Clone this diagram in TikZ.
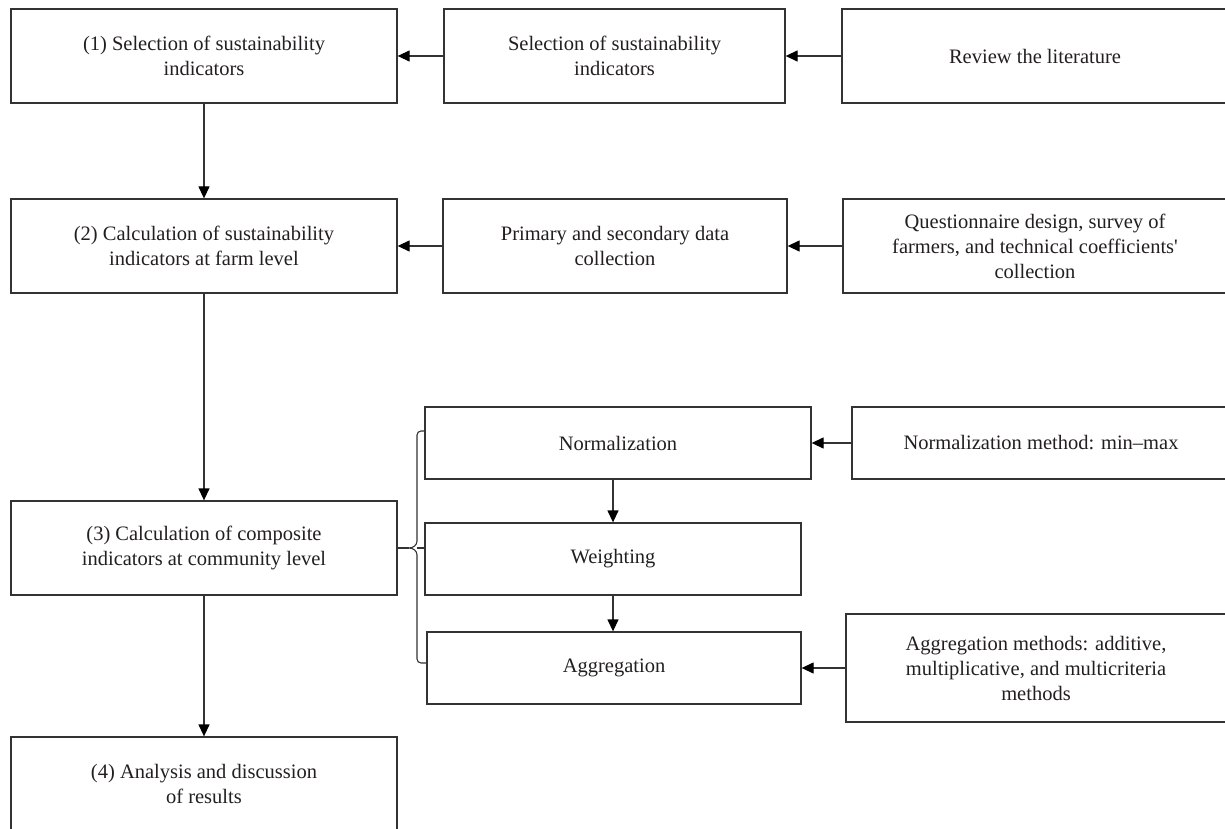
\documentclass[tikz,border=0pt]{standalone}
\usepackage{fontspec}
\setmainfont{Liberation Serif}
\newfontfamily\plainserif{Liberation Serif}
\usetikzlibrary{arrows.meta,calc}
\definecolor{ink}{HTML}{231F20}
\definecolor{edge}{HTML}{333333}
\begin{document}
\begin{tikzpicture}[x=1pt,y=-1pt,
  box/.style={draw=edge, line width=1.3pt, align=center, text=ink, inner sep=2pt,
    font=\fontsize{20.5}{25}\selectfont},
  arr/.style={draw=edge, line width=1.3pt, -{Triangle[length=12pt,width=11pt,fill=black,color=black]}},
  ln/.style={draw=edge, line width=1.3pt}]
\clip (0,0) rectangle (1225,829);
\fill[white] (0,0) rectangle (1225,829);

% column 1
\node[box, minimum width=386pt, minimum height=94pt] (b1) at (204,56) {(1) Selection of sustainability\\indicators};
\node[box, minimum width=386pt, minimum height=94pt] (b2) at (204,246) {(2) Calculation of sustainability\\indicators at farm level};
\node[box, minimum width=386pt, minimum height=94pt] (b3) at (204,548) {(3) Calculation of composite\\indicators at community level};
\node[box, minimum width=386pt, minimum height=94pt] (b4) at (204,784) {(4) Analysis and discussion\\of results};

% middle column
\node[box, minimum width=341pt, minimum height=94pt] (m1) at (614.5,56) {Selection of sustainability\\indicators};
\node[box, minimum width=344pt, minimum height=94pt] (m2) at (615,246) {Primary and secondary data\\collection};
\node[box, minimum width=386pt, minimum height=72pt] (norm) at (618,443) {Normalization};
\node[box, minimum width=376pt, minimum height=72pt] (weight) at (613,559) {Weighting};
\node[box, minimum width=374pt, minimum height=72pt] (agg) at (614,668) {Aggregation};

% right column
\node[box, minimum width=386pt, minimum height=94pt] (r1) at (1035,56) {Review the literature};
\node[box, minimum width=384pt, minimum height=94pt] (r2) at (1035,246) {Questionnaire design, survey of\\farmers, and technical coefficients{\plainserif '}\\collection};
\node[box, minimum width=378pt, minimum height=72pt] (nm) at (1041,443) {Normalization method: min–max};
\node[box, minimum width=380pt, minimum height=108pt] (am) at (1036,668) {Aggregation methods: additive,\\multiplicative, and multicriteria\\methods};

% arrows
\draw[arr] (b1.south) -- (b2.north);
\draw[arr] (b2.south) -- (b3.north);
\draw[arr] (b3.south) -- (b4.north);
\draw[arr] (m1.west) -- (b1.east);
\draw[arr] (r1.west) -- (m1.east);
\draw[arr] (m2.west) -- (b2.east);
\draw[arr] (r2.west) -- (m2.east);
\draw[arr] (nm.west) -- (norm.east);
\draw[arr] (am.west) -- (agg.east);
\draw[arr] (weight.north |- norm.south) -- (weight.north);
\draw[arr] (weight.south) -- (weight.south |- agg.north);

% brace
\coordinate (tip) at (409,548);
\draw[edge, line width=1.1pt, line join=round]
  (norm.west |- 0,431) -- (421,431) to[out=180,in=90] (417,435) -- (417,541)
  to[out=-90,in=0] (tip) to[out=0,in=90] (417,555) -- (417,659)
  to[out=-90,in=180] (421,663) -- (agg.west |- 0,663);
\draw[ln, line width=1.6pt] (b3.east |- tip) -- (tip);
\draw[edge, line width=1.1pt] (417,548) -- (weight.west |- tip);
\end{tikzpicture}
\end{document}
